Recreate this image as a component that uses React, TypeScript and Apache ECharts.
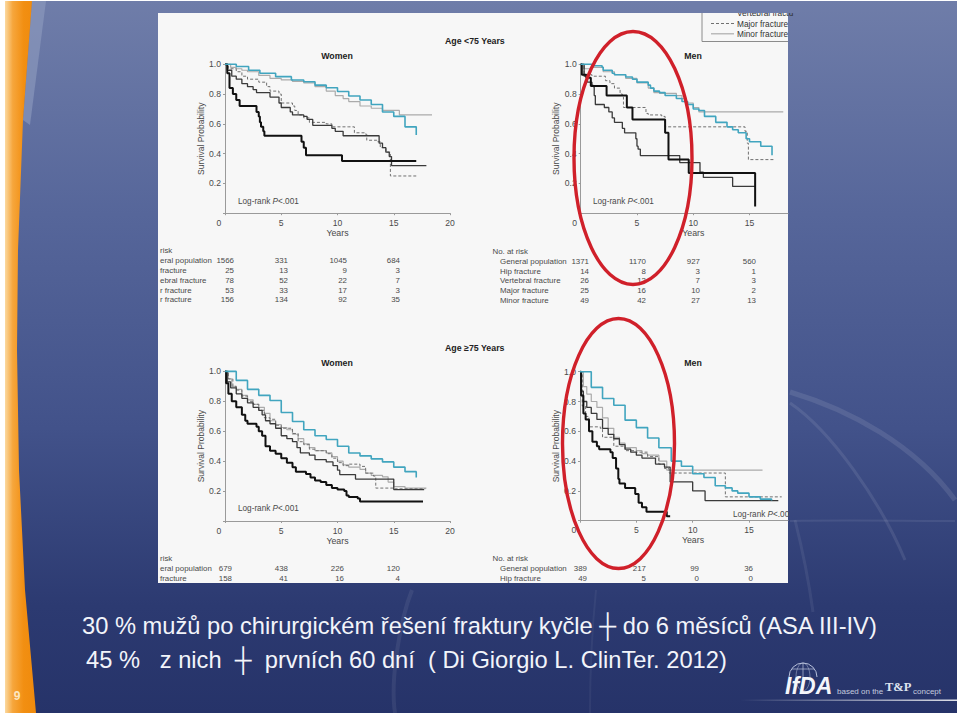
import React, { useEffect, useRef } from "react";
import * as echarts from "echarts";

type Pt = [number, number];

const seriesNames = ["General population", "Hip fracture", "Vertebral fracture", "Major fracture", "Minor fracture"];

// Women, age < 75
const wyGeneral: Pt[] = [[0,1],[1,.985],[2.1,.96],[3.1,.94],[4.5,.917],[5.9,.895],[7,.883],[8,.86],[9,.843],[10,.817],[11,.787],[12,.76],[13,.73],[14,.68],[15,.65],[16,.58],[17,.525],[17.01,.525]];
const wyHip: Pt[] = [[0,1],[.2,.94],[.4,.84],[.7,.8],[1,.76],[1.3,.72],[2.8,.68],[3,.65],[3.1,.61],[3.2,.58],[3.4,.55],[3.5,.52],[6.8,.48],[7,.44],[7.2,.39],[10.4,.35],[17,.35]];
const wyVert: Pt[] = [[0,1],[.2,.96],[.6,.92],[1,.9],[1.5,.87],[2,.85],[2.5,.83],[2.8,.81],[4,.78],[4.8,.74],[5,.71],[5.8,.68],[6,.66],[7,.65],[7.3,.63],[7.8,.59],[9,.59],[9.5,.57],[9.8,.55],[10.5,.52],[13.5,.52],[13.7,.47],[14,.44],[14.3,.41],[14.6,.38],[14.8,.32],[17.9,.32]];
const wyMajor: Pt[] = [[0,1],[.3,.97],[1,.95],[1.5,.92],[2,.9],[3,.88],[3.7,.85],[4,.82],[4.8,.8],[5,.74],[6,.72],[6.2,.69],[6.5,.66],[7,.64],[7.5,.61],[9,.6],[9.5,.58],[11,.58],[11.5,.54],[12.5,.53],[12.6,.49],[13.5,.48],[13.8,.44],[14.3,.41],[14.7,.25],[17,.25]];
const wyMinor: Pt[] = [[0,1],[.5,.98],[1,.97],[1.5,.96],[2,.95],[3,.925],[4,.905],[5,.895],[6,.885],[7,.875],[8,.85],[9,.82],[9.8,.79],[10.5,.77],[11,.75],[12,.72],[13,.705],[14,.69],[15.5,.66],[18.4,.66]];

// Men, age < 75
const myGeneral: Pt[] = [[0,1],[1,.99],[1.9,.98],[2,.96],[2.8,.94],[3,.93],[4,.915],[4.6,.9],[5,.88],[6,.86],[6.2,.84],[6.5,.82],[7,.81],[7.5,.79],[8.5,.77],[9,.75],[9.5,.73],[10,.7],[10.5,.69],[11,.65],[12,.61],[13,.58],[13.5,.56],[14,.54],[14.7,.5],[15,.48],[16,.45],[17,.39],[17.01,.39]];
const myHip: Pt[] = [[0,1],[.1,.93],[.5,.91],[.9,.855],[2.3,.79],[4.1,.71],[4.6,.63],[7.5,.54],[7.8,.36],[9.6,.27],[15.5,.045],[15.51,.045]];
const myVert: Pt[] = [[0,1],[.3,.92],[.6,.88],[1,.86],[1.1,.85],[1.2,.79],[1.3,.73],[2.1,.71],[2.5,.68],[2.8,.64],[3,.61],[3.7,.57],[3.9,.54],[4.9,.5],[5,.45],[5.1,.43],[5.3,.387],[8.8,.34],[10.6,.275],[10.9,.24],[13.5,.18],[15.5,.18]];
const myMajor: Pt[] = [[0,1],[.3,.93],[1,.92],[2.2,.89],[2.6,.87],[3,.84],[3.5,.8],[3.7,.78],[3.8,.71],[5.8,.67],[6,.66],[7.2,.65],[7.5,.58],[14.6,.55],[14.8,.47],[14.9,.36],[17.3,.36]];
const myMinor: Pt[] = [[0,1],[.3,.97],[1,.98],[2,.95],[3,.93],[4,.905],[5,.875],[6,.84],[6.5,.81],[7,.805],[8.5,.79],[9,.77],[9.3,.74],[10,.71],[10.5,.68],[18,.68]];

// Women, age >= 75
const woGeneral: Pt[] = [[0,1],[1,.94],[2,.88],[3,.84],[4,.805],[5,.725],[6,.665],[7,.61],[8,.57],[9,.545],[10,.5],[11,.455],[12,.435],[13,.415],[14,.395],[15,.36],[16,.33],[17,.29],[17.01,.29]];
const woHip: Pt[] = [[0,1],[.1,.92],[.3,.85],[.6,.8],[1,.76],[1.5,.71],[1.8,.67],[2,.65],[2.8,.63],[3,.6],[3.3,.57],[3.6,.5],[4,.47],[4.5,.45],[5,.42],[5.5,.39],[6,.36],[6.3,.33],[7.2,.315],[7.6,.29],[8,.27],[8.5,.26],[9,.24],[9.5,.22],[10,.21],[10.6,.2],[10.8,.17],[11,.16],[11.8,.15],[12,.13],[17.6,.13]];
const woVert: Pt[] = [[0,1],[.2,.93],[.5,.89],[1,.85],[1.5,.82],[2,.79],[2.5,.76],[3,.74],[3.3,.71],[3.6,.67],[4,.65],[4.5,.62],[5,.57],[5.5,.55],[6,.53],[6.4,.49],[6.7,.455],[7.5,.44],[8,.41],[9,.395],[9.6,.37],[10,.34],[10.2,.31],[11.6,.28],[15,.21],[17.7,.21]];
const woMajor: Pt[] = [[0,1],[.3,.95],[.7,.9],[1,.875],[1.5,.835],[2,.8],[2.5,.78],[3,.74],[3.5,.69],[4,.68],[4.5,.64],[5,.62],[6,.585],[6.5,.53],[7,.51],[7.5,.48],[8,.47],[9,.45],[9.5,.42],[10,.39],[10.5,.37],[11,.38],[12,.365],[12.5,.32],[13.2,.3],[13.4,.22],[15,.215],[17.8,.215]];
const woMinor: Pt[] = [[0,1],[.3,.95],[.6,.9],[1,.88],[1.5,.84],[2,.81],[2.5,.78],[3,.76],[3.5,.72],[4,.67],[4.5,.645],[5,.625],[5.5,.61],[6,.58],[6.5,.55],[7,.515],[7.5,.49],[8,.47],[9,.455],[9.5,.43],[10,.4],[10.5,.375],[11,.36],[12,.345],[12.5,.32],[13,.305],[14,.295],[14.5,.26],[15,.23],[16,.22],[17.9,.22]];

// Men, age >= 75
const moGeneral: Pt[] = [[0,1],[1,.895],[2,.82],[3,.775],[4,.675],[5,.625],[6,.555],[7,.49],[8.1,.4],[9,.365],[10,.315],[11,.29],[12,.235],[12.9,.22],[13.5,.2],[14,.185],[15,.16],[16,.145],[17,.135],[17.01,.135]];
const moHip: Pt[] = [[0,1],[.1,.84],[.3,.72],[.5,.68],[.8,.6],[1.1,.53],[1.5,.5],[1.7,.48],[2.7,.46],[2.9,.42],[3.2,.35],[3.4,.28],[3.5,.25],[4,.22],[4.9,.18],[5.2,.12],[5.5,.09],[5.9,.06],[7.7,.03],[8,.03]];
const moVert: Pt[] = [[0,1],[.1,.87],[.3,.8],[.6,.76],[1,.72],[1.5,.68],[2,.62],[2.5,.58],[3,.55],[3.5,.51],[4,.48],[4.5,.46],[5,.44],[5.5,.42],[6.7,.38],[7.5,.36],[8,.26],[10,.2],[11.1,.135],[17.6,.135]];
const moMajor: Pt[] = [[0,1],[.2,.77],[.5,.7],[.8,.63],[1.8,.62],[2,.56],[3,.5],[4,.47],[5,.46],[6,.43],[7,.38],[7.5,.35],[7.9,.32],[12.9,.16],[17.9,.16]];
const moMinor: Pt[] = [[0,1],[.3,.9],[.6,.85],[1,.8],[1.5,.76],[2,.69],[2.5,.62],[3,.56],[3.5,.52],[4,.49],[5,.47],[5.5,.45],[6,.44],[7,.4],[7.7,.34],[16.2,.34]];

const panelCurves: Pt[][][] = [
  [wyMinor, wyMajor, wyVert, wyHip, wyGeneral],
  [myMinor, myMajor, myVert, myHip, myGeneral],
  [woMinor, woMajor, woVert, woHip, woGeneral],
  [moMinor, moMajor, moVert, moHip, moGeneral],
];
const curveNames = [seriesNames[4], seriesNames[3], seriesNames[2], seriesNames[1], seriesNames[0]];

const riskWomenYoung = [["1566","331","1045","684"],["25","13","9","3"],["78","52","22","7"],["53","33","17","3"],["156","134","92","35"]];
const riskMenYoung = [["1371","1170","927","560"],["14","8","3","1"],["26","12","7","3"],["25","16","10","2"],["49","42","27","13"]];
const riskWomenOld = [["679","438","226","120"],["158","41","16","4"]];
const riskMenOld = [["389","217","99","36"],["49","5","0","0"]];
const clippedLabels = ["eral population", "fracture", "ebral fracture", "r fracture", "r fracture"];
const titleLine1 = "30 % mužů po chirurgickém řešení fraktury kyčle ┼ do 6 měsíců (ASA III-IV)";
const titleLine2 = "45 %   z nich  ┼  prvních 60 dní  ( Di Giorgio L. ClinTer. 2012)";

const SANS = "'Liberation Sans', 'DejaVu Sans', sans-serif";
const INK = "#4a4a4a";
const curveStyle = [
  { color: "#ababab", width: 1.2, type: "solid" },
  { color: "#707070", width: 1, type: [3, 2] },
  { color: "#3a3a3a", width: 1.3, type: "solid" },
  { color: "#111111", width: 2, type: "solid" },
  { color: "#41a5bf", width: 1.6, type: "solid" },
];
const grids = [
  { left: 225, top: 64.3, width: 225, height: 148.9, max: 20 },
  { left: 580.7, top: 64.3, width: 207.3, height: 148.9, max: 18.42 },
  { left: 225, top: 371.4, width: 225, height: 149.6, max: 20 },
  { left: 580, top: 371.7, width: 208, height: 149, max: 18.46 },
];

const txt = (text: string, x: number, y: number, o: any = {}) => ({
  type: "text", x, y, z: o.z ?? 5,
  style: {
    text, fontFamily: o.family ?? SANS, fontSize: o.size ?? 7.9, fill: o.fill ?? INK,
    fontWeight: o.weight ?? "normal", fontStyle: o.style ?? "normal",
    align: o.align ?? "left", verticalAlign: "middle", rich: o.rich, opacity: o.opacity ?? 1,
  },
});
const curve = (x1: number, y1: number, cx1: number, cy1: number, cx2: number, cy2: number, x2: number, y2: number, w = 4, op = 0.1) => ({
  type: "bezierCurve", z: -9,
  shape: { x1, y1, cpx1: cx1, cpy1: cy1, cpx2: cx2, cpy2: cy2, x2, y2 },
  style: { stroke: "#ffffff", lineWidth: w, opacity: op, fill: "none" },
});
const logRank = (x: number, y: number, tail = "<.001") =>
  txt("Log-rank {i|P}" + tail, x, y, { size: 8.2, rich: { i: { fontStyle: "italic", fontSize: 8.2, fill: INK, fontFamily: SANS } } });

const riskTable = (rows: string[][], cols: number[], ys: number[]) =>
  rows.flatMap((r, i) => r.map((v, j) => txt(v, cols[j], ys[i], { align: "right" })));

function buildOption() {
  const series: any[] = [];
  panelCurves.forEach((curves, p) => {
    curves.forEach((data, c) => {
      series.push({
        type: "line", name: curveNames[c], data, step: "end", xAxisIndex: p, yAxisIndex: p,
        showSymbol: false, symbol: "none", lineStyle: curveStyle[c], z: 3 + c, clip: false,
      });
    });
  });
  const xAxis = grids.map((g, i) => ({
    type: "value", gridIndex: i, min: 0, max: g.max, interval: 5,
    name: "Years", nameLocation: "middle", nameGap: 15,
    nameTextStyle: { fontFamily: SANS, fontSize: 8.8, color: INK, padding: g.max < 20 ? [0, 0, 0, 18] : 0 },
    splitLine: { show: false },
    axisLine: { lineStyle: { color: "#9a9a9a", width: 1 } },
    axisTick: { length: 2, lineStyle: { color: "#9a9a9a" } },
    axisLabel: {
      fontFamily: SANS, fontSize: 8.6, color: INK, margin: 5, showMaxLabel: g.max === 20,
      formatter: (v: number) => (v === 0 ? "{z|0}" : String(v)),
      rich: { z: { padding: [0, 12, 0, 0], fontFamily: SANS, fontSize: 8.6, color: INK } },
    },
  }));
  const yAxis = grids.map((_, i) => ({
    type: "value", gridIndex: i, min: 0, max: 1, interval: 0.2,
    name: "Survival Probability", nameLocation: "middle", nameGap: 20, nameRotate: 90,
    nameTextStyle: { fontFamily: SANS, fontSize: 8.5, color: INK },
    splitLine: { show: false },
    axisLine: { show: true, lineStyle: { color: "#9a9a9a", width: 1 } },
    axisTick: { show: true, length: 2, lineStyle: { color: "#9a9a9a" } },
    axisLabel: {
      fontFamily: SANS, fontSize: 8.6, color: INK, margin: 4,
      formatter: (v: number) => (v === 0 ? "" : v.toFixed(1)),
    },
  }));

  const rowsTop = [260.5, 270.7, 280.2, 290, 299.5];
  const rowsTopR = [261, 271, 280.3, 290, 300];
  const graphicEls: any[] = [
    // slide background
    { type: "rect", z: -10, shape: { x: 0, y: 0, width: 960, height: 716 }, style: { fill: "#ffffff" } },
    { type: "rect", z: -10, shape: { x: 5, y: 1, width: 952, height: 712 }, style: {
        fill: { type: "linear", x: 0, y: 0, x2: 0, y2: 1, colorStops: [
          { offset: 0, color: "#6f7da9" }, { offset: 0.3, color: "#56669a" }, { offset: 0.6, color: "#42528a" },
          { offset: 0.85, color: "#2c3a71" }, { offset: 1, color: "#263369" } ] } } },
    curve(790, 392, 850, 410, 915, 445, 955, 500, 5, 0.1),
    curve(790, 403, 830, 430, 880, 500, 905, 560, 3, 0.09),
    curve(795, 520, 805, 560, 810, 590, 813, 612, 3, 0.07),
    curve(790, 521, 850, 520, 900, 521, 955, 521, 2, 0.08),
    curve(395, 713, 390, 680, 400, 620, 412, 590, 4, 0.07),
    curve(590, 713, 590, 680, 592, 630, 596, 590, 2, 0.05),
    { type: "polygon", z: -9, shape: { points: [[32,1],[46,1],[30,125],[23,120]] }, style: { fill: "#8f9cc0", opacity: 0.6 } },
    { type: "polygon", z: -9, shape: { points: [[5,1],[32,1],[23,120],[18,250],[17,350],[19,470],[25,590],[36,713],[5,713]] }, style: {
        fill: { type: "linear", x: 0, y: 0, x2: 1, y2: 0, colorStops: [
          { offset: 0, color: "#fbd9a0" }, { offset: 0.25, color: "#f6a63c" }, { offset: 0.6, color: "#f28f12" }, { offset: 1, color: "#ef8a0c" } ] } } },
    // picture panel
    { type: "rect", z: -8, shape: { x: 158, y: 13, width: 630, height: 570 }, style: { fill: "#f7f7f7" } },
    // clipped legend
    txt("Vertebral fractu", 737, 12.5, { z: 1, size: 8.3, fill: "#333" }),
    { type: "rect", z: 2, shape: { x: 690, y: 1, width: 110, height: 12 }, style: { fill: "#6f7da9" } },
    { type: "polyline", z: 2, shape: { points: [[702, 13], [702, 41.5], [788, 41.5]] }, style: { stroke: "#8c8c8c", lineWidth: 1, fill: "none" } },
    { type: "line", z: 2, shape: { x1: 711, y1: 23.5, x2: 734, y2: 23.5 }, style: { stroke: "#707070", lineWidth: 1, lineDash: [3, 2] } },
    { type: "line", z: 2, shape: { x1: 711, y1: 33.8, x2: 734, y2: 33.8 }, style: { stroke: "#ababab", lineWidth: 1.2 } },
    txt("Major fracture", 737, 23.5, { size: 8.3, fill: "#333" }),
    txt("Minor fracture", 737, 33.8, { size: 8.3, fill: "#333" }),
    // headings
    txt("Age <75 Years", 445, 41, { size: 8.8, weight: 600, fill: "#222" }),
    txt("Age ≥75 Years", 445, 348, { size: 8.8, weight: 600, fill: "#222" }),
    txt("Women", 337, 56, { size: 8.8, weight: 600, fill: "#222", align: "center" }),
    txt("Men", 693, 56, { size: 8.8, weight: 600, fill: "#222", align: "center" }),
    txt("Women", 337, 363, { size: 8.8, weight: 600, fill: "#222", align: "center" }),
    txt("Men", 693, 363, { size: 8.8, weight: 600, fill: "#222", align: "center" }),
    logRank(238, 201), logRank(593, 201), logRank(238, 508), logRank(733, 514, "<.00"),
    // numbers at risk
    txt("risk", 160, 250.7),
    ...clippedLabels.map((l, i) => txt(l, 160, rowsTop[i])),
    ...riskTable(riskWomenYoung, [234, 288, 347, 400], rowsTop),
    txt("No. at risk", 492.5, 251),
    ...seriesNames.map((l, i) => txt(l, 500, rowsTopR[i])),
    ...riskTable(riskMenYoung, [589, 646, 700, 756], rowsTopR),
    txt("risk", 160, 558.7),
    ...clippedLabels.slice(0, 2).map((l, i) => txt(l, 160, [568.7, 578.2][i])),
    ...riskTable(riskWomenOld, [232, 288, 344, 400], [568.7, 578.2]),
    txt("No. at risk", 492.5, 558),
    ...seriesNames.slice(0, 2).map((l, i) => txt(l, 500, [568.2, 578.2][i])),
    ...riskTable(riskMenOld, [587, 646, 699, 753], [568.2, 578.2]),
    // red ellipses
    { type: "ellipse", z: 20, shape: { cx: 633, cy: 158, rx: 59, ry: 126.5 }, style: { fill: "none", stroke: "#d0202a", lineWidth: 3.4 } },
    { type: "ellipse", z: 20, shape: { cx: 618.5, cy: 443.5, rx: 56, ry: 125 }, style: { fill: "none", stroke: "#d0202a", lineWidth: 3.4 } },
    // slide text
    txt(titleLine1, 82, 625.5, { size: 23.7, fill: "#f2f4fa" }),
    txt(titleLine2, 86, 659.5, { size: 23.7, fill: "#f2f4fa" }),
    txt("9", 17, 696, { size: 12, weight: "bold", fill: "#fbe6c0", align: "center" }),
    // logo
    { type: "arc", z: 5, shape: { cx: 803, cy: 677, r: 14, startAngle: Math.PI, endAngle: 2 * Math.PI }, style: { stroke: "#b7c0da", lineWidth: 1, fill: "none" } },
    { type: "ellipse", z: 5, shape: { cx: 803, cy: 677, rx: 7, ry: 14 }, style: { stroke: "#b7c0da", lineWidth: 0.7, fill: "none", opacity: 0.7 } },
    { type: "line", z: 5, shape: { x1: 792, y1: 669, x2: 814, y2: 669 }, style: { stroke: "#b7c0da", lineWidth: 0.7 } },
    { type: "line", z: 5, shape: { x1: 803, y1: 663, x2: 803, y2: 680 }, style: { stroke: "#b7c0da", lineWidth: 0.7 } },
    txt("IfDA", 785, 686, { size: 23, weight: "bold", style: "italic", fill: "#f4f6fb" }),
    txt("based on the", 837, 691, { size: 8, fill: "#c3cade" }),
    txt("T&P", 885, 687, { size: 12.5, weight: "bold", fill: "#dfe3ef", family: "'Liberation Serif', serif" }),
    txt("concept", 913, 691, { size: 8, fill: "#c3cade" }),
    { type: "rect", z: 4, shape: { x: 740, y: 699.5, width: 217, height: 1.5 }, style: {
        fill: { type: "linear", x: 0, y: 0, x2: 1, y2: 0, colorStops: [
          { offset: 0, color: "rgba(255,255,255,0)" }, { offset: 1, color: "rgba(255,255,255,0.85)" } ] } } },
  ];

  return {
    animation: false,
    backgroundColor: "#ffffff",
    tooltip: { show: false },
    grid: grids.map((g) => ({ left: g.left, top: g.top, width: g.width, height: g.height, containLabel: false })),
    xAxis, yAxis, series,
    graphic: { elements: graphicEls },
  };
}

export default function App() {
  const ref = useRef<HTMLDivElement | null>(null);
  useEffect(() => {
    const chart = echarts.init(ref.current!, undefined, { renderer: "svg" });
    chart.setOption(buildOption() as any);
    return () => chart.dispose();
  }, []);
  return <div ref={ref} style={{ position: "absolute", left: 0, top: 0, width: 960, height: 716 }} />;
}
